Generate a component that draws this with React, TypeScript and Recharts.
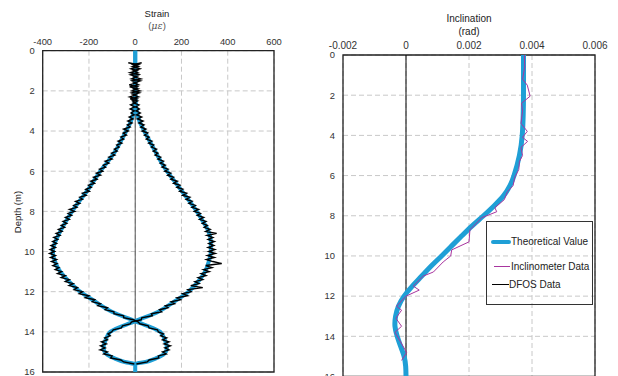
import { ScatterChart, Scatter, XAxis, YAxis, CartesianGrid, ReferenceLine, ReferenceArea } from 'recharts'

const FONT = '"Liberation Sans", Arial, sans-serif'

const STRAIN_TICKS = [-400, -200, 0, 200, 400, 600]
const DEPTH_TICKS = [0, 2, 4, 6, 8, 10, 12, 14, 16]
const INCL_TICKS = [-0.002, 0, 0.002, 0.004, 0.006]

// [depth (m), strain (με)]
const STRAIN_THEORY_A = [
  [0, 0], [1, 0], [2, 0], [2.5, -2], [3, -6], [3.5, -18], [4, -39], [4.5, -62], [5, -86],
  [5.5, -117], [6, -151], [6.5, -180], [7, -209], [7.5, -242], [8, -273], [8.5, -300],
  [9, -324], [9.5, -345], [10, -356], [10.5, -347], [11, -324], [11.5, -285], [12, -238],
  [12.5, -172], [13, -101], [13.47, 0], [14, 108], [14.4, 128], [14.8, 137], [15.1, 125],
  [15.3, 94], [15.5, 45], [15.6, 0], [16, 0],
]
const STRAIN_THEORY_B = [
  [0, 0], [1, 0], [2, 0], [2.5, 2], [3, 6], [3.5, 18], [4, 39], [4.5, 62], [5, 86],
  [5.5, 110], [6, 137], [6.5, 170], [7, 202], [7.5, 235], [8, 266], [8.5, 293],
  [9, 317], [9.5, 327], [10, 327], [10.5, 318], [11, 302], [11.5, 272], [12, 230],
  [12.5, 168], [13, 100], [13.47, 0], [14, -108], [14.4, -128], [14.8, -137], [15.1, -125],
  [15.3, -94], [15.5, -45], [15.6, 0],
]

// [depth (m), DFOS side A, DFOS side B]
const STRAIN_DFOS = [
  [0.6, 28, -30], [0.7, -10, 14], [0.8, 14, -12], [0.9, -18, 20], [1.0, 8, -8],
  [1.1, -22, 12], [1.2, 16, -20], [1.3, -6, 8], [1.4, 24, -16], [1.5, -14, 22],
  [1.6, 6, -6], [1.7, -26, 14], [1.8, 10, -24], [1.9, -8, 12], [2.0, 20, -14],
  [2.1, -16, 18], [2.2, 4, -10], [2.3, -24, 14], [2.4, 8, -22], [2.5, -12, 10],
  [2.6, 2, -8], [2.7, -20, 16], [2.8, -2, 2], [2.9, -22, 18], [3.0, -4, 4],
  [3.1, -18, 22], [3.2, -5, 6], [3.3, -26, 28], [3.4, -10, 10], [3.5, -32, 34],
  [3.6, -14, 16], [3.7, -34, 38], [3.8, -22, 24], [3.9, -50, 46], [4.0, -30, 30],
  [4.1, -52, 54], [4.2, -38, 40], [4.3, -62, 60], [4.4, -50, 48], [4.5, -74, 72],
  [4.6, -58, 58], [4.7, -80, 80], [4.8, -70, 70], [4.9, -90, 92], [5.0, -78, 78],
  [5.1, -102, 98], [5.2, -88, 86], [5.3, -114, 110], [5.4, -100, 98], [5.5, -130, 122],
  [5.6, -114, 108], [5.7, -138, 130], [5.8, -128, 116], [5.9, -154, 142], [6.0, -140, 128],
  [6.1, -168, 154], [6.2, -150, 140], [6.3, -180, 166], [6.4, -165, 154], [6.5, -192, 182],
  [6.6, -176, 166], [6.7, -202, 194], [6.8, -190, 180], [6.9, -214, 206], [7.0, -198, 192],
  [7.1, -228, 222], [7.2, -212, 205], [7.3, -240, 236], [7.4, -228, 220], [7.5, -258, 246],
  [7.6, -240, 232], [7.7, -266, 260], [7.8, -252, 245], [7.9, -284, 274], [8.0, -262, 255],
  [8.1, -290, 282], [8.2, -275, 268], [8.3, -302, 296], [8.4, -285, 278], [8.5, -312, 306],
  [8.6, -296, 290], [8.7, -320, 312], [8.8, -305, 298], [8.9, -332, 324], [9.0, -316, 305],
  [9.1, -342, 352], [9.2, -325, 310], [9.3, -352, 336], [9.4, -335, 315], [9.5, -357, 342],
  [9.6, -340, 318], [9.7, -364, 340], [9.8, -345, 315], [9.9, -368, 344], [10.0, -348, 318],
  [10.1, -370, 346], [10.2, -345, 312], [10.3, -366, 342], [10.4, -340, 308], [10.5, -362, 336],
  [10.6, -338, 374], [10.7, -356, 305], [10.8, -330, 332], [10.9, -346, 295], [11.0, -318, 320],
  [11.1, -336, 285], [11.2, -302, 306], [11.3, -320, 272], [11.4, -285, 292], [11.5, -302, 258],
  [11.6, -268, 276], [11.7, -286, 240], [11.8, -250, 292], [11.9, -264, 228], [12.0, -228, 242],
  [12.1, -242, 205], [12.2, -200, 226], [12.3, -216, 180], [12.4, -175, 196], [12.5, -186, 155],
  [12.6, -150, 170], [12.7, -162, 130], [12.8, -120, 142], [12.9, -130, 105], [13.0, -92, 114],
  [13.1, -92, 70], [13.2, -50, 74], [13.3, -50, 28], [13.4, -8, 26], [13.5, 12, -15],
  [13.6, 20, -22], [13.7, 56, -55], [13.8, 60, -60], [13.9, 96, -95], [14.0, 100, -102],
  [14.1, 122, -118], [14.2, 110, -108], [14.3, 136, -132], [14.4, 118, -120], [14.5, 146, -146],
  [14.6, 125, -125], [14.7, 152, -150], [14.8, 128, -130], [14.9, 146, -152], [15.0, 118, -120],
  [15.1, 134, -136], [15.2, 100, -100], [15.3, 102, -106], [15.4, 60, -62], [15.5, 52, -50],
  [15.6, 5, -4],
]

// [depth (m), inclination (rad)]
const INCL_THEORY = [
  [0, 0.00373], [1, 0.00373], [2, 0.00373], [3, 0.00372], [4, 0.00369], [5, 0.0036],
  [6, 0.00343], [6.5, 0.0033], [7, 0.0031], [7.5, 0.0028], [8, 0.00246], [8.5, 0.0021],
  [9, 0.00177], [9.5, 0.00145], [10, 0.00113], [10.5, 0.0008], [11, 0.0005], [11.5, 0.0002],
  [12, -0.00006], [12.5, -0.00024], [13, -0.00033], [13.5, -0.00035], [14, -0.00028],
  [14.5, -0.00017], [15, -0.00006], [15.5, -0.00001], [16, 0],
]
const INCL_METER = [
  [0, 0.00376], [0.6, 0.00377], [1.2, 0.0037], [1.5, 0.00385], [2.05, 0.00394], [2.4, 0.00367],
  [2.8, 0.0037], [3.4, 0.00365], [3.8, 0.00385], [4.1, 0.0037], [4.3, 0.00386], [4.6, 0.00365],
  [5.0, 0.0037], [5.3, 0.0036], [5.7, 0.00358], [6.1, 0.00345], [6.5, 0.0034], [6.8, 0.00322],
  [7.2, 0.00312], [7.6, 0.00282], [7.8, 0.00288], [8.1, 0.0024], [8.3, 0.00228], [8.7, 0.00203],
  [9.3, 0.002], [9.7, 0.00145], [10.0, 0.00142], [10.3, 0.00118], [10.8, 0.00087], [11.0, 0.00055],
  [11.5, 0.00023], [11.7, 0.00042], [12.0, 0.0], [12.5, -0.0003], [12.7, -0.00014], [13.1, -0.00032],
  [13.5, -0.00014], [13.8, -0.00035], [14.8, 0.00002], [15.2, -0.00014],
]

const BLUE = '#1f9fd6'
const PURPLE = '#a8359f'
const GRID = '#c8c8c8'

const toPts = (rows: number[][], col = 1) => rows.map((r) => ({ x: r[col], y: r[0] }))
const noDot = () => <g />

function StrainChart() {
  return (
    <ScatterChart width={300} height={376} margin={{ top: 30.7, right: 26, bottom: 4, left: 12.7 }}>
      <CartesianGrid stroke={GRID} strokeDasharray="5 3" />
      <XAxis
        type="number"
        dataKey="x"
        orientation="top"
        domain={[-400, 600]}
        ticks={STRAIN_TICKS}
        interval={0}
        height={20}
        tickLine={false}
        axisLine={false}
        tickSize={4}
        tick={{ fontSize: 9.4, fill: '#333', fontFamily: FONT }}
      />
      <YAxis
        type="number"
        dataKey="y"
        domain={[0, 16]}
        reversed
        ticks={DEPTH_TICKS}
        interval={0}
        width={30}
        tickLine={false}
        axisLine={false}
        tick={{ fontSize: 9.4, fill: '#333', fontFamily: FONT }}
      />
      <ReferenceLine x={0} stroke="#555" strokeWidth={1} />
      <Scatter data={toPts(STRAIN_THEORY_A)} fill={BLUE} line={{ stroke: BLUE, strokeWidth: 4 }} lineType="joint" lineJointType="monotoneY" shape={noDot} isAnimationActive={false} />
      <Scatter data={toPts(STRAIN_THEORY_B)} fill={BLUE} line={{ stroke: BLUE, strokeWidth: 4 }} lineType="joint" lineJointType="monotoneY" shape={noDot} isAnimationActive={false} />
      <Scatter data={toPts(STRAIN_DFOS, 1)} fill="#000" line={{ stroke: '#000', strokeWidth: 1.4 }} lineType="joint" shape={noDot} isAnimationActive={false} />
      <Scatter data={toPts(STRAIN_DFOS, 2)} fill="#000" line={{ stroke: '#000', strokeWidth: 1.4 }} lineType="joint" shape={noDot} isAnimationActive={false} />
      <ReferenceArea x1={-400} x2={600} y1={0} y2={16} fill="none" stroke="#222" strokeWidth={1.3} />
    </ScatterChart>
  )
}

function InclinationChart() {
  return (
    <ScatterChart width={318} height={380} margin={{ top: 35, right: 23, bottom: 3.5, left: 13 }}>
      <CartesianGrid stroke={GRID} strokeDasharray="5 3" />
      <XAxis
        type="number"
        dataKey="x"
        orientation="top"
        domain={[-0.002, 0.006]}
        ticks={INCL_TICKS}
        interval={0}
        height={20}
        tickLine={false}
        axisLine={false}
        tickSize={4}
        tick={{ fontSize: 10, fill: '#333', fontFamily: FONT }}
      />
      <YAxis
        type="number"
        dataKey="y"
        domain={[0, 16]}
        reversed
        ticks={DEPTH_TICKS}
        interval={0}
        width={30}
        tickLine={false}
        axisLine={false}
        tick={{ fontSize: 9.4, fill: '#333', fontFamily: FONT }}
      />
      <ReferenceLine x={0} stroke="#000" strokeWidth={1} />
      <Scatter data={toPts(INCL_THEORY)} fill={BLUE} line={{ stroke: BLUE, strokeWidth: 5 }} lineType="joint" lineJointType="natural" shape={noDot} isAnimationActive={false} />
      <Scatter data={toPts(INCL_METER)} fill={PURPLE} line={{ stroke: PURPLE, strokeWidth: 1 }} lineType="joint" shape={noDot} isAnimationActive={false} />
      <ReferenceArea x1={-0.002} x2={0.006} y1={0} y2={16} fill="none" stroke="#222" strokeWidth={1.3} />
    </ScatterChart>
  )
}

const txt = { position: 'absolute' as const, textAlign: 'center' as const, color: '#222', lineHeight: '12px', whiteSpace: 'nowrap' as const }

export default function App() {
  return (
    <div style={{ position: 'absolute', left: 0, top: 0, width: 618, height: 376, overflow: 'hidden', background: '#fff', fontFamily: FONT }}>
      <div style={{ position: 'absolute', left: 0, top: 0 }}>
        <StrainChart />
      </div>
      <div style={{ position: 'absolute', left: 300, top: 0 }}>
        <InclinationChart />
      </div>

      <div style={{ ...txt, left: 107, width: 100, top: 8, fontSize: 9.5 }}>Strain</div>
      <div style={{ ...txt, left: 107, width: 100, top: 20, fontSize: 9.5, color: '#555' }}>
        (<i style={{ fontFamily: '"DejaVu Serif", serif' }}>με</i>)
      </div>
      <div style={{ ...txt, left: -22, width: 80, top: 206, fontSize: 9.5, transform: 'rotate(-90deg)' }}>Depth (m)</div>

      <div style={{ ...txt, left: 419, width: 100, top: 13, fontSize: 10 }}>Inclination</div>
      <div style={{ ...txt, left: 419, width: 100, top: 26, fontSize: 10 }}>(rad)</div>

      <div style={{ position: 'absolute', left: 486, top: 221, width: 105, height: 82, border: '1px solid #333', fontSize: 10, color: '#222' }}>
        <div style={{ position: 'absolute', left: 4, top: 14, display: 'flex', alignItems: 'center' }}>
          <span style={{ display: 'inline-block', width: 20, height: 4, background: BLUE, borderRadius: 2 }} />
          <span>Theoretical Value</span>
        </div>
        <div style={{ position: 'absolute', left: 7, top: 39, display: 'flex', alignItems: 'center' }}>
          <span style={{ display: 'inline-block', width: 16, height: 1.2, background: PURPLE, marginRight: 1 }} />
          <span>Inclinometer Data</span>
        </div>
        <div style={{ position: 'absolute', left: 5, top: 57, display: 'flex', alignItems: 'center' }}>
          <span style={{ display: 'inline-block', width: 17, height: 1.3, background: '#000' }} />
          <span>DFOS Data</span>
        </div>
      </div>
    </div>
  )
}
